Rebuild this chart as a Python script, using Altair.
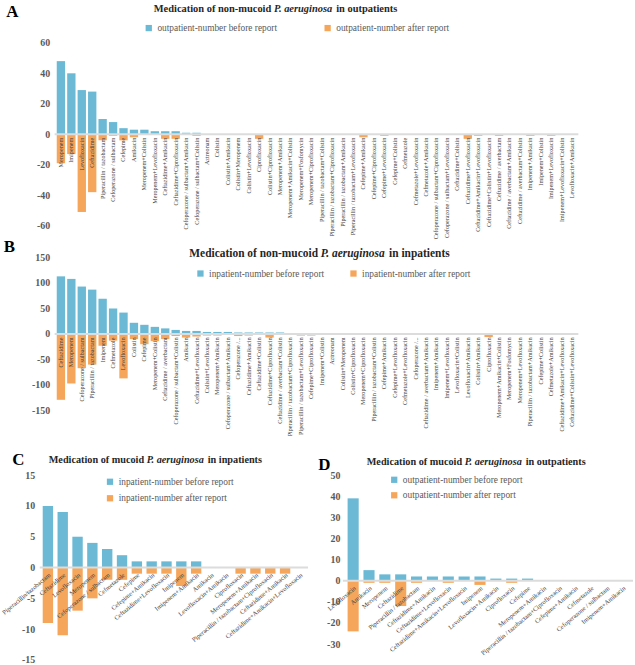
import json
import altair as alt
import pandas as pd

BLUE = "#6cb9d5"
ORANGE = "#f5a65b"
SERIF = "Liberation Serif"

# ---------------- A: non-mucoid, outpatients ----------------
names_a = [
    "Meropenem", "Imipenem", "Levofloxacin", "Ceftazidime", "Piperacillin / tazobactam",
    "Cefoperazone / sulbactam", "Cefepime", "Amikacin", "Meropenem+Colistin",
    "Meropenem+Levofloxacin", "Ceftazidime+Amikacin", "Ceftazidime+Ciprofloxacin",
    "Cefoperazone / sulbactam+Amikacin", "Cefoperazone / sulbactam+Colistin", "Aztreonam",
    "Colistin", "Colistin+Amikacin", "Colistin+Meropenem", "Colistin+Levofloxacin",
    "Ciprofloxacin", "Colistin+Ciprofloxacin", "Meropenem+Amikacin",
    "Meropenem+Amikacin+Colistin", "Meropenem+Fosfomycin", "Meropenem+Ciprofloxacin",
    "Piperacillin / tazobactam+Colistin", "Piperacillin / tazobactam+Ciprofloxacin",
    "Piperacillin / tazobactam+Amikacin", "Piperacillin / tazobactam+Levofloxacin",
    "Cefepime+Amikacin", "Cefepime+Ciprofloxacin", "Cefepime+Levofloxacin",
    "Cefepime+Colistin", "Cefmetazole", "Cefmetazole+Levofloxacin", "Cefmetazole+Amikacin",
    "Cefoperazone / sulbactam+Ciprofloxacin", "Cefoperazone / sulbactam+Levofloxacin",
    "Ceftazidime+Colistin", "Ceftazidime+Levofloxacin", "Ceftazidime+Amikacin+Levofloxacin",
    "Ceftazidime+Colistin+Levofloxacin", "Ceftazidime / averbactam",
    "Ceftazidime / averbactam+Amikacin", "Ceftazidime / averbactam+Colistin",
    "Imipenem+Amikacin", "Imipenem+Colistin", "Imipenem+Levofloxacin",
    "Imipenem+Levofloxacin+Colistin", "Levofloxacin+Amikacin",
]
before_a = [48, 40, 29, 28, 10, 8, 4, 3, 3, 2, 2, 2, 1, 1, 0, 0, 0, 0, 0, 0,
            0, 0, 0, 0, 0, 0, 0, 0, 0, 0, 0, 0, 0, 0, 0, 0, 0, 0, 0, 0,
            0, 0, 0, 0, 0, 0, 0, 0, 0, 0]
after_a = [19, 13, 51, 38, 4, 1, 4, 2, 0, 0, 3, 3, 0, 1, 0, 0, 0, 0, 0, 3,
           0, 0, 0, 0, 0, 0, 0, 0, 0, 2, 0, 1, 0, 0, 0, 0, 0, 0, 0, 3,
           1, 0, 1, 0, 0, 1, 0, 1, 0, 0]

# ---------------- B: non-mucoid, inpatients ----------------
names_b = [
    "Ceftazidime", "Meropenem", "Cefoperazone / sulbactam", "Piperacillin / tazobactam",
    "Imipenem", "Cefmetazole", "Levofloxacin", "Colistin", "Cefepime", "Meropenem+Colistin",
    "Ceftazidime / averbactam", "Cefoperazone / sulbactam+Colistin", "Amikacin",
    "Ceftazidime+Levofloxacin", "Colistin+Levofloxacin", "Meropenem+Amikacin",
    "Cefoperazone / sulbactam+Amikacin", "Cefoperazone /...", "Ceftazidime+Amikacin",
    "Ceftazidime+Colistin", "Ceftazidime+Ciprofloxacin", "Ceftazidime / averbactam+Colistin",
    "Piperacillin / tazobactam+Ciprofloxacin", "Piperacillin / tazobactam+Levofloxacin",
    "Cefepime+Ciprofloxacin", "Imipenem+Colistin", "Aztreonam", "Colistin+Meropenem",
    "Colistin+Ciprofloxacin", "Meropenem+Ciprofloxacin", "Piperacillin / tazobactam+Colistin",
    "Cefepime+Amikacin", "Cefepime+Levofloxacin", "Cefmetazole+Levofloxacin",
    "Cefoperazone /...", "Ceftazidime / averbactam+Amikacin", "Imipenem+Amikacin",
    "Imipenem+Levofloxacin", "Levofloxacin+Colistin", "Levofloxacin+Amikacin",
    "Colistin+Amikacin", "Ciprofloxacin", "Meropenem+Amikacin+Colistin",
    "Meropenem+Fosfomycin", "Meropenem+Levofloxacin", "Piperacillin / tazobactam+Amikacin",
    "Cefepime+Colistin", "Cefmetazole+Amikacin", "Ceftazidime+Amikacin+Levofloxacin",
    "Ceftazidime+Colistin+Levofloxacin",
]
before_b = [113, 108, 93, 87, 69, 50, 42, 22, 18, 14, 11, 8, 6, 6, 4, 4, 4, 3, 3, 3,
            3, 3, 2, 2, 2, 2, 0, 0, 0, 0, 0, 0, 0, 0, 0, 0, 0, 0, 0, 0,
            0, 0, 0, 0, 0, 0, 0, 0, 0, 0]
after_b = [129, 97, 67, 60, 23, 13, 87, 10, 20, 14, 10, 4, 7, 5, 3, 3, 1, 4, 3, 2,
           7, 1, 2, 3, 3, 0, 0, 2, 0, 1, 0, 0, 0, 0, 2, 1, 1, 1, 0, 1,
           0, 6, 0, 0, 0, 2, 0, 0, 0, 0]

# ---------------- C: mucoid, inpatients ----------------
names_c = [
    "Piperacillin/tazobactam", "Ceftazidime", "Levofloxacin", "Meropenem",
    "Cefoperazone / sulbactam", "Cefmetazole", "Cefepime", "Cefepime+Amikacin",
    "Ceftazidime+Levofloxacin", "Imipenem", "Imipenem+Amikacin", "Amikacin",
    "Levofloxacin+Amikacin", "Ciprofloxacin", "Meropenem+Amikacin",
    "Piperacillin / tazobactam+Ciprofloxacin", "Ceftazidime+Amikacin",
    "Ceftazidime+Amikacin+Levofloxacin",
]
before_c = [10, 9, 5, 4, 3, 2, 1, 1, 1, 1, 1, 0, 0, 0, 0, 0, 0, 0]
after_c = [9, 11, 7, 5, 2, 2, 1, 1, 1, 3, 1, 0, 0, 1, 1, 1, 1, 0]

# ---------------- D: mucoid, outpatients ----------------
names_d = [
    "Levofloxacin", "Amikacin", "Meropenem", "Ceftazidime", "Piperacillin / tazobactam",
    "Ceftazidime+Amikacin", "Ceftazidime+Levofloxacin", "Ceftazidime+Amikacin+Levofloxacin",
    "Imipenem", "Levofloxacin+Amikacin", "Ciprofloxacin", "Cefepime", "Meropenem+Amikacin",
    "Piperacillin / tazobactam+Ciprofloxacin", "Cefepime+Amikacin", "Cefmetazole",
    "Cefoperazone / sulbactam", "Imipenem+Amikacin",
]
before_d = [39, 5, 3, 3, 2, 2, 2, 2, 2, 1, 1, 1, 0, 0, 0, 0, 0, 0]
after_d = [24, 1, 1, 12, 1, 0, 1, 0, 2, 0, 1, 0, 0, 0, 0, 0, 0, 0]

# width of the bold-italic species name, in em
ITALIC_EM = 5.72


def long_frame(before, after, s_before, s_after):
    rows = []
    for i, (b, a) in enumerate(zip(before, after)):
        rows.append({"k": i, "series": s_before, "v": b})
        rows.append({"k": i, "series": s_after, "v": -a})
    return pd.DataFrame(rows)


def text_piece(s, x, y, size, align="left", style="normal", weight="bold",
               color="#262626", baseline="alphabetic"):
    return alt.Chart(pd.DataFrame({"t": [s]})).mark_text(
        align=align, baseline=baseline, font=SERIF, fontSize=size,
        fontStyle=style, fontWeight=weight, color=color,
    ).encode(x=alt.value(x), y=alt.value(y), text="t:N")


def panel(names, before, after, who, ydom, yvals, width, height, top, plot_h, xrange_,
          pad_inner, pad_outer, label_angle, label_size, label_pad,
          y_offset, y_pad, legend_kw, letter, letter_xy, title_at, title_words):
    s_before = f"{who}-number before report"
    s_after = f"{who}-number after report"
    df = long_frame(before, after, s_before, s_after)
    label_expr = json.dumps(names) + "[datum.value]"
    # x axis sits on the zero line
    zero_px = top + plot_h * ydom[1] / (ydom[1] - ydom[0])
    x_offset = -(height - zero_px)
    yscale = alt.Scale(domain=ydom, nice=False, zero=False, range=[top + plot_h, top])
    yaxis = alt.Axis(
        values=yvals, tickCount=len(yvals) + 2, labelExpr="toString(datum.value)",
        domain=False, ticks=False, grid=False, labelFont=SERIF, labelFontSize=10,
        labelFontWeight="bold", labelColor="#595959", labelPadding=y_pad,
        offset=y_offset, labelOverlap=False, labelSeparation=0, title=None,
    )

    bars = alt.Chart(df).mark_bar().encode(
        x=alt.X(
            "k:O", title=None,
            scale=alt.Scale(range=xrange_, paddingInner=pad_inner, paddingOuter=pad_outer),
            axis=alt.Axis(
                labelExpr=label_expr, labelAngle=label_angle, labelFont=SERIF,
                labelFontSize=label_size, labelColor="#404040", labelPadding=label_pad,
                domain=False, ticks=False, grid=False, offset=x_offset, zindex=1,
                labelOverlap=False,
            ),
        ),
        y=alt.Y("v:Q", title=None, scale=yscale, axis=yaxis),
        color=alt.Color(
            "series:N", title=None,
            scale=alt.Scale(domain=[s_before, s_after], range=[BLUE, ORANGE]),
            legend=alt.Legend(
                orient="none", symbolType="square", symbolSize=40,
                symbolStrokeWidth=0, labelFont=SERIF, labelFontSize=9.4,
                labelColor="#595959", labelOffset=4, padding=0, **legend_kw,
            ),
        ),
    )

    zero = alt.Chart(pd.DataFrame({"z": [0]})).mark_rule(
        color="#dcdcdc", strokeWidth=2
    ).encode(
        y=alt.Y("z:Q", title=None, scale=yscale, axis=yaxis),
        x=alt.value(xrange_[0]), x2=alt.value(xrange_[1]),
    )

    layers = [bars, zero]
    layers.append(text_piece(letter, letter_xy[0], letter_xy[1], 17,
                             align="center", color="#000000", baseline="middle"))
    # title: plain words, italic species name, plain words
    x_split, y_base, size = title_at
    first, italic, last = title_words
    space = 0.25 * size
    x_italic = x_split + space
    x_last = x_italic + ITALIC_EM * size + space
    layers.append(text_piece(first, x_split, y_base, size, align="right"))
    layers.append(text_piece(italic, x_italic, y_base, size, style="italic"))
    layers.append(text_piece(last, x_last, y_base, size))
    return layers, width, height


layers_a, wa, ha = panel(
    names_a, before_a, after_a, "outpatient", [-60, 60], list(range(-60, 61, 20)),
    542, 184, 0, 184, [15, 542], 0.2, 0.2, -90, 6.2, 3, -15, 5,
    dict(legendX=105, legendY=-20, direction="horizontal", columnPadding=46),
    "A", (-27.5, -31.5), (233, -31, 10.5),
    ("Medication of non-mucoid", "P. aeruginosa", "in outpatients"),
)
# invisible marker pinning the top-left corner of the whole figure
anchor = alt.Chart(pd.DataFrame({"a": [0]})).mark_rect(opacity=0).encode(
    x=alt.value(-38), x2=alt.value(-37), y=alt.value(-40), y2=alt.value(-39)
)
chart_a = alt.layer(*layers_a, anchor).properties(width=wa, height=ha)

# panel B is given extra room underneath so one spacing fits every row
layers_b, wb, hb = panel(
    names_b, before_b, after_b, "inpatient", [-150, 150], list(range(-150, 151, 50)),
    542, 177, 0, 154, [15, 542], 0.2, 0.2, -90, 6.2, 3, -15, 5,
    dict(legendX=157, legendY=11, direction="horizontal", columnPadding=25),
    "B", (-30.5, -11), (280, -0.5, 11.5),
    ("Medication of non-mucoid", "P. aeruginosa", "in inpatients"),
)
chart_b = alt.layer(*layers_b).properties(width=wb, height=hb)

# the lower panels keep a 10 px band above their plotting range
layers_c, wc, hc = panel(
    names_c, before_c, after_c, "inpatient", [-15, 15], list(range(-15, 16, 5)),
    270, 196, 10, 186, [0, 270], 0.3, 0.2, -40, 6.5, 4, 0, 5,
    dict(legendX=66, legendY=12, direction="vertical", rowPadding=5.6),
    "C", (-21.5, -5.5), (105, -1.7, 10.3),
    ("Medication of mucoid", "P. aeruginosa", "in inpatients"),
)
chart_c = alt.layer(*layers_c).properties(width=wc, height=hc)

layers_d, wd, hd = panel(
    names_d, before_d, after_d, "outpatient", [-30, 50], list(range(-30, 51, 10)),
    292, 180, 10, 170, [0, 292], 0.3, 0.3, -40, 6.5, 4, 0, 3,
    dict(legendX=47, legendY=10, direction="vertical", rowPadding=4.6),
    "D", (-18.5, -0.5), (120, 0, 10.3),
    ("Medication of mucoid", "P. aeruginosa", "in outpatients"),
)
chart_d = alt.layer(*layers_d).properties(width=wd, height=hd)

bottom = alt.hconcat(chart_c, chart_d, spacing=35, bounds="flush").resolve_scale(
    color="independent").resolve_legend(color="independent")

chart = alt.vconcat(chart_a, chart_b, bottom, spacing=32, bounds="flush").resolve_scale(
    color="independent").resolve_legend(color="independent").properties(
    padding=0, background="#ffffff",
    autosize=alt.AutoSizeParams(type="pad"),
).configure_view(stroke="transparent")

chart.save("out.html", embed_options={"renderer": "svg", "actions": False})
